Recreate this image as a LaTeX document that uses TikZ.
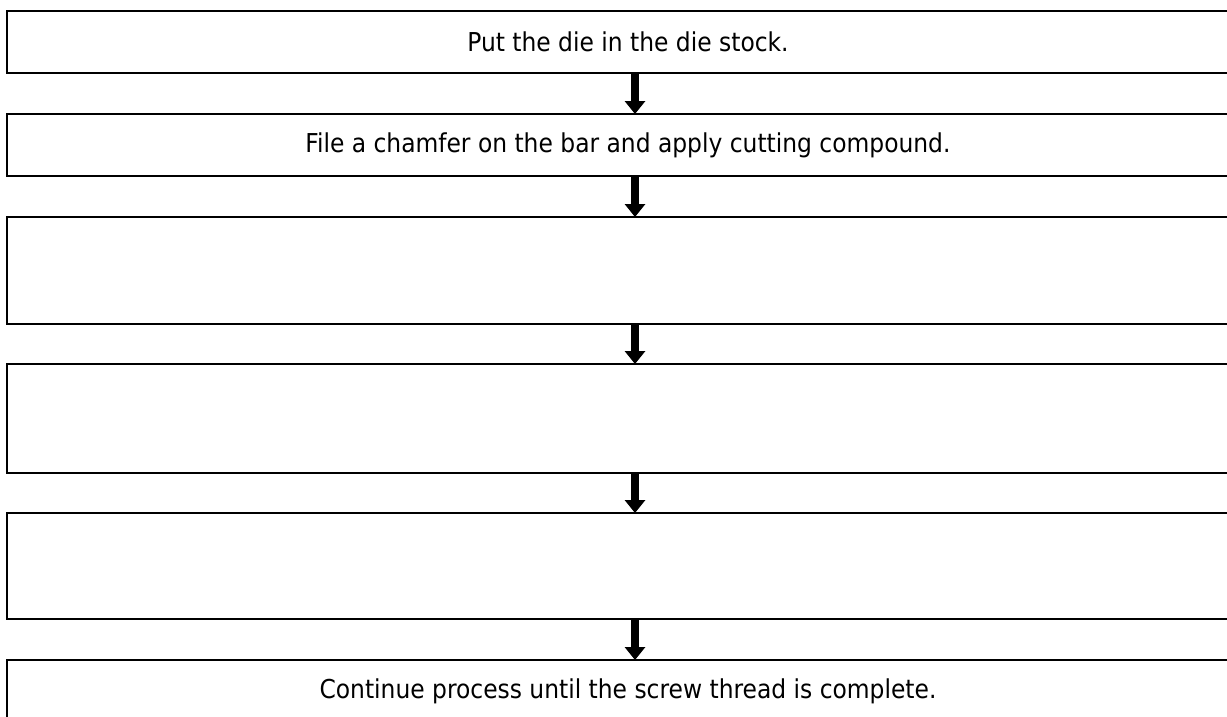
\documentclass[tikz,border=0pt]{standalone}
\usepackage{fontspec}
\setmainfont{DejaVu Sans Condensed}
\usetikzlibrary{arrows.meta}
\begin{document}
\begin{tikzpicture}[x=1pt,y=-1pt,
  stepbox/.style={draw=black, line width=2.4pt, minimum width=1242pt, inner sep=0pt, outer sep=0pt,
    font=\fontsize{26}{30}\selectfont, text=black, fill=white},
  flow/.style={line width=8pt, draw=black, -{Triangle[width=20pt,length=13pt]}}]
\useasboundingbox (0,0) rectangle (1227,716);
\fill[white] (0,0) rectangle (1227,716);
\node[stepbox, minimum height=62pt]  (b1) at (628,42)  {Put the die in the die stock.};
\node[stepbox, minimum height=62pt]  (b2) at (628,145) {File a chamfer on the bar and apply cutting compound.};
\node[stepbox, minimum height=107pt] (b3) at (628,270.5) {};
\node[stepbox, minimum height=109pt] (b4) at (628,418.5) {};
\node[stepbox, minimum height=106pt] (b5) at (628,566) {};
\node[stepbox, minimum height=62pt]  (b6) at (628,691) {Continue process until the screw thread is complete.};
\coordinate (ax) at (635,0);
\draw[flow] (b1.south -| ax) -- (b2.north -| ax);
\draw[flow] (b2.south -| ax) -- (b3.north -| ax);
\draw[flow] (b3.south -| ax) -- (b4.north -| ax);
\draw[flow] (b4.south -| ax) -- (b5.north -| ax);
\draw[flow] (b5.south -| ax) -- (b6.north -| ax);
\end{tikzpicture}
\end{document}
